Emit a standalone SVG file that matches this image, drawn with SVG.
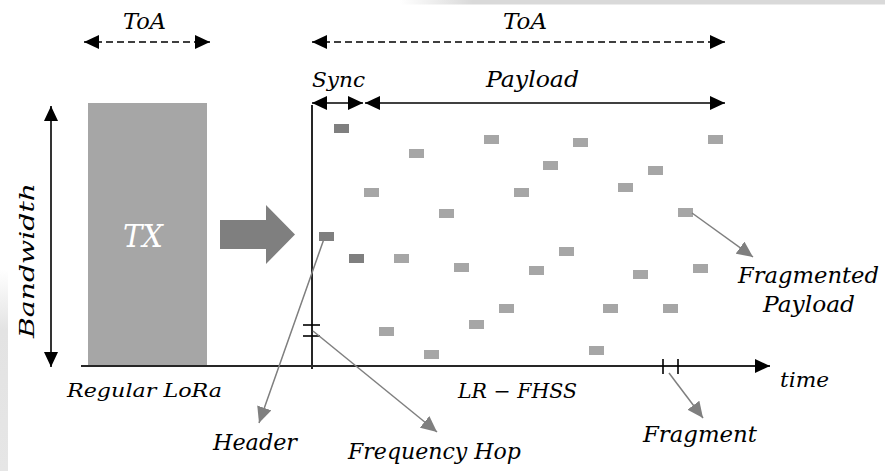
<svg xmlns="http://www.w3.org/2000/svg" width="885" height="471" viewBox="0 0 885 471">
<defs>
<marker id="ah" markerUnits="userSpaceOnUse" markerWidth="15" markerHeight="14" refX="15" refY="7" orient="auto-start-reverse" viewBox="0 0 15 14"><path d="M0,0 L15,7 L0,14 z" fill="#000"/></marker>
<marker id="gh" markerUnits="userSpaceOnUse" markerWidth="16" markerHeight="15" refX="16" refY="7.5" orient="auto" viewBox="0 0 16 15"><path d="M0,0 L16,7.5 L0,15 z" fill="#7f7f7f"/></marker>
<linearGradient id="topg" x1="0" y1="0" x2="1" y2="0"><stop offset="0" stop-color="#d9d9d9" stop-opacity="0"/><stop offset="0.15" stop-color="#d9d9d9"/><stop offset="1" stop-color="#d9d9d9"/></linearGradient>
<linearGradient id="leftg" x1="0" y1="0" x2="0" y2="1"><stop offset="0" stop-color="#e3e3e3" stop-opacity="0"/><stop offset="0.3" stop-color="#e3e3e3"/><stop offset="1" stop-color="#e6e6e6"/></linearGradient>
</defs>
<style>
.t{font-family:"DejaVu Serif","Liberation Serif",serif;font-style:italic;fill:#000}
.ax{stroke:#262626;stroke-width:2;fill:none}
.dim{stroke:#000;stroke-width:1.6;fill:none}
.dash{stroke-dasharray:7 4}
.lead{stroke:#7f7f7f;stroke-width:1.5;fill:none}
.sl{fill:#a6a6a6}
.sd{fill:#7f7f7f}
</style>
<rect width="885" height="471" fill="#fff"/>
<rect x="400" y="0" width="485" height="4.5" fill="url(#topg)"/>
<rect x="0" y="270" width="8" height="201" fill="url(#leftg)"/>

<g id="regular-lora">
<rect x="88" y="103" width="119" height="263" fill="#a6a6a6"/>
<text class="t" x="123" y="247" font-size="32" fill="#fff" style="fill:#fff" textLength="40" lengthAdjust="spacingAndGlyphs">TX</text>
</g>

<g id="big-arrow">
<polygon points="220,220 266,220 266,205 295,234.5 266,264 266,249 220,249" fill="#7f7f7f"/>
</g>

<g id="segments">
<rect class="sd" x="334" y="124" width="15" height="9"/>
<rect class="sd" x="319" y="232" width="15" height="9"/>
<rect class="sd" x="349" y="254" width="15" height="9"/>
<rect class="sl" x="484" y="135" width="15" height="9"/>
<rect class="sl" x="573" y="138" width="15" height="9"/>
<rect class="sl" x="409" y="149" width="15" height="9"/>
<rect class="sl" x="543" y="161" width="15" height="9"/>
<rect class="sl" x="364" y="188" width="15" height="9"/>
<rect class="sl" x="514" y="188" width="15" height="9"/>
<rect class="sl" x="439" y="209" width="15" height="9"/>
<rect class="sl" x="708" y="135" width="15" height="9"/>
<rect class="sl" x="648" y="166" width="15" height="9"/>
<rect class="sl" x="618" y="183" width="15" height="9"/>
<rect class="sl" x="678" y="208" width="15" height="9"/>
<rect class="sl" x="394" y="254" width="15" height="9"/>
<rect class="sl" x="454" y="263" width="15" height="9"/>
<rect class="sl" x="529" y="266" width="15" height="9"/>
<rect class="sl" x="559" y="247" width="15" height="9"/>
<rect class="sl" x="499" y="304" width="15" height="9"/>
<rect class="sl" x="469" y="320" width="15" height="9"/>
<rect class="sl" x="379" y="327" width="15" height="9"/>
<rect class="sl" x="424" y="350" width="15" height="9"/>
<rect class="sl" x="589" y="346" width="15" height="9"/>
<rect class="sl" x="633" y="270" width="15" height="9"/>
<rect class="sl" x="693" y="264" width="15" height="9"/>
<rect class="sl" x="603" y="304" width="15" height="9"/>
<rect class="sl" x="663" y="304" width="15" height="9"/>
</g>

<g id="connectors">
<line class="ax" x1="81" y1="366" x2="770" y2="366" marker-end="url(#ah)"/>
<line class="ax" x1="312" y1="105" x2="312" y2="369"/>
<line class="dim" x1="51" y1="106" x2="51" y2="367" marker-start="url(#ah)" marker-end="url(#ah)"/>
<line class="dim dash" x1="84" y1="42" x2="210" y2="42" marker-start="url(#ah)" marker-end="url(#ah)"/>
<line class="dim dash" x1="312" y1="42" x2="725" y2="42" marker-start="url(#ah)" marker-end="url(#ah)"/>
<line class="dim" x1="312" y1="103" x2="363" y2="103" marker-start="url(#ah)" marker-end="url(#ah)"/>
<line class="dim" x1="365" y1="103" x2="725" y2="103" marker-start="url(#ah)" marker-end="url(#ah)"/>
<line class="dim" x1="303" y1="325" x2="320" y2="325"/>
<line class="dim" x1="303" y1="336" x2="320" y2="336"/>
<line class="dim" x1="663" y1="359" x2="663" y2="374"/>
<line class="dim" x1="678" y1="359" x2="678" y2="374"/>
<line class="lead" x1="325" y1="236" x2="259" y2="423" marker-end="url(#gh)"/>
<line class="lead" x1="313" y1="331" x2="437" y2="432" marker-end="url(#gh)"/>
<line class="lead" x1="692" y1="213" x2="753" y2="257" marker-end="url(#gh)"/>
<line class="lead" x1="669" y1="373" x2="703" y2="418" marker-end="url(#gh)"/>
</g>

<g id="labels">
<text class="t" x="123" y="29" font-size="22" textLength="43" lengthAdjust="spacingAndGlyphs">ToA</text>
<text class="t" x="503" y="29" font-size="22" textLength="44" lengthAdjust="spacingAndGlyphs">ToA</text>
<text class="t" x="312" y="87" font-size="21" textLength="53" lengthAdjust="spacingAndGlyphs">Sync</text>
<text class="t" x="486" y="87" font-size="22" textLength="93" lengthAdjust="spacingAndGlyphs">Payload</text>
<text class="t" transform="translate(34,338) rotate(-90)" x="0" y="0" font-size="21" textLength="155" lengthAdjust="spacingAndGlyphs">Bandwidth</text>
<text class="t" x="67" y="397" font-size="19" textLength="155" lengthAdjust="spacingAndGlyphs">Regular LoRa</text>
<text class="t" x="458" y="398" font-size="20" textLength="119" lengthAdjust="spacingAndGlyphs">LR − FHSS</text>
<text class="t" x="780" y="387" font-size="21" textLength="49" lengthAdjust="spacingAndGlyphs">time</text>
<text class="t" x="738" y="283" font-size="22" textLength="141" lengthAdjust="spacingAndGlyphs">Fragmented</text>
<text class="t" x="763" y="312" font-size="22" textLength="92" lengthAdjust="spacingAndGlyphs">Payload</text>
<text class="t" x="213" y="450" font-size="22" textLength="84" lengthAdjust="spacingAndGlyphs">Header</text>
<text class="t" x="348" y="459" font-size="22" textLength="173" lengthAdjust="spacingAndGlyphs">Frequency Hop</text>
<text class="t" x="643" y="442" font-size="22" textLength="114" lengthAdjust="spacingAndGlyphs">Fragment</text>
</g>
</svg>
